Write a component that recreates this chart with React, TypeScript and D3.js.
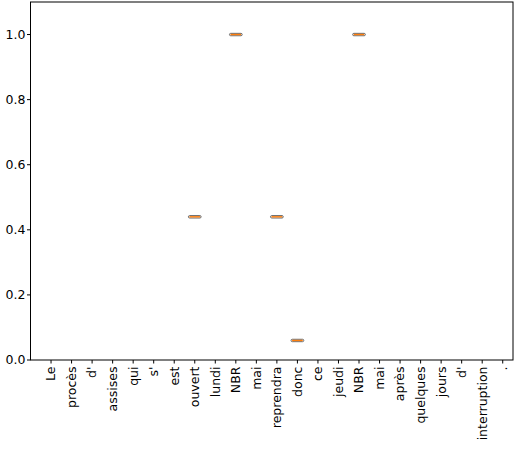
import React from "react"
import { scaleLinear } from "d3"

const words = [
  "Le", "procès", "d'", "assises", "qui", "s'", "est", "ouvert", "lundi", "NBR", "mai",
  "reprendra", "donc", "ce", "jeudi", "NBR", "mai", "après", "quelques", "jours", "d'",
  "interruption", ".",
]
// one value per word, null where nothing is drawn
const values: (number | null)[] = [
  null, null, null, null, null, null, null, 0.44, null, 1.0, null,
  0.44, 0.06, null, null, 1.0, null, null, null, null, null,
  null, null,
]
const yTicks = [0, 0.2, 0.4, 0.6, 0.8, 1.0]

const width = 514
const height = 450
const margin = { top: 2, right: 1, bottom: 90, left: 30.5 }

function App() {
  const innerWidth = width - margin.left - margin.right
  const innerHeight = height - margin.top - margin.bottom

  const xScale = scaleLinear().domain([0, 23.5]).range([0, innerWidth])
  const yScale = scaleLinear().domain([0, 1.1]).range([innerHeight, 0])
  const boxW = xScale(0.62) - xScale(0)

  return (
    <svg width={width} height={height} style={{ position: "absolute", left: 0, top: 0 }}
      fontFamily="DejaVu Sans" fontSize={12.5}>
      <g transform={`translate(${margin.left}, ${margin.top})`}>
        {values.map((v, i) => {
          if (v === null) return null
          const cx = xScale(i + 1)
          const cy = yScale(v)
          return (
            <g key={i}>
              <rect x={cx - boxW / 2} y={cy - 1.2} width={boxW} height={2.4} rx={1.2}
                fill="none" stroke="#666" strokeWidth={1} />
              <line x1={cx - boxW / 2 + 1} x2={cx + boxW / 2 - 1} y1={cy} y2={cy}
                stroke="#ff7f0e" strokeWidth={1.4} />
            </g>
          )
        })}
        <rect x={0} y={0} width={innerWidth} height={innerHeight} fill="none" stroke="black" strokeWidth={1} />
        {yTicks.map(t => (
          <g key={t} transform={`translate(0, ${yScale(t)})`}>
            <line x2={-3.5} stroke="black" />
            <text x={-5} dy="0.35em" textAnchor="end" fill="black">{t.toFixed(1)}</text>
          </g>
        ))}
        {words.map((w, i) => (
          <g key={i} transform={`translate(${xScale(i + 1)}, ${innerHeight})`}>
            <line y2={3.5} stroke="black" />
            <text transform="translate(0, 6.5) rotate(-90)" textAnchor="end" dy="0.35em" fill="black">{w}</text>
          </g>
        ))}
      </g>
    </svg>
  )
}

export default App
